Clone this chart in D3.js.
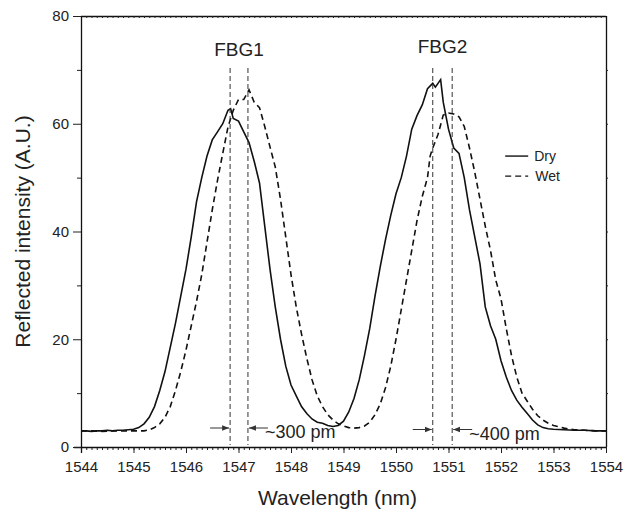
<!DOCTYPE html>
<html>
<head>
<meta charset="utf-8">
<script src="https://cdn.jsdelivr.net/npm/d3@7"></script>
<style>
  body { margin: 0; background: #fff; }
  svg { font-family: "Liberation Sans", Arial, sans-serif; }
</style>
</head>
<body>
<div id="chart"></div>
<script>
// wavelength (nm), reflected intensity (A.U.)
const dry = [
  [1544.0, 3.0], [1544.1, 3.0], [1544.2, 2.9], [1544.3, 3.0], [1544.4, 3.0], [1544.5, 3.1],
  [1544.6, 3.0], [1544.7, 3.1], [1544.8, 3.1], [1544.9, 3.2], [1545.0, 3.3], [1545.1, 3.6],
  [1545.2, 4.3], [1545.3, 5.5], [1545.4, 7.5], [1545.5, 10.5], [1545.6, 14.0], [1545.7, 18.5],
  [1545.8, 23.0], [1545.9, 28.0], [1546.0, 33.0], [1546.1, 39.0], [1546.2, 45.5], [1546.3, 50.0],
  [1546.4, 54.0], [1546.5, 57.0], [1546.6, 58.5], [1546.7, 60.0], [1546.8, 62.5], [1546.85, 62.8],
  [1546.9, 61.0], [1547.0, 60.5], [1547.1, 58.5], [1547.2, 56.5], [1547.3, 53.0], [1547.4, 49.0],
  [1547.5, 41.0], [1547.6, 33.0], [1547.7, 26.0], [1547.8, 20.0], [1547.9, 15.0], [1548.0, 11.5],
  [1548.1, 9.5], [1548.2, 7.5], [1548.3, 6.2], [1548.4, 5.2], [1548.5, 4.6], [1548.6, 4.4],
  [1548.7, 4.0], [1548.8, 3.8], [1548.9, 4.0], [1549.0, 4.8], [1549.1, 6.5], [1549.2, 9.0],
  [1549.3, 12.5], [1549.4, 17.0], [1549.5, 22.0], [1549.6, 28.0], [1549.7, 33.5], [1549.8, 38.5],
  [1549.9, 43.0], [1550.0, 47.0], [1550.1, 50.0], [1550.2, 54.0], [1550.3, 59.0], [1550.4, 61.5],
  [1550.5, 63.5], [1550.6, 66.5], [1550.7, 67.5], [1550.75, 66.8], [1550.85, 68.2], [1550.9, 64.0],
  [1551.0, 59.0], [1551.1, 55.5], [1551.2, 54.5], [1551.3, 50.0], [1551.4, 44.0], [1551.5, 39.0],
  [1551.6, 34.0], [1551.7, 26.0], [1551.8, 22.5], [1551.9, 20.0], [1552.0, 16.0], [1552.1, 13.0],
  [1552.2, 10.5], [1552.3, 8.7], [1552.4, 7.4], [1552.5, 6.2], [1552.6, 5.0], [1552.7, 4.1],
  [1552.8, 3.6], [1552.9, 3.4], [1553.0, 3.3], [1553.2, 3.2], [1553.4, 3.1], [1553.6, 3.1],
  [1553.8, 3.0], [1554.0, 3.0]
];

const wet = [
  [1544.0, 3.0], [1544.2, 3.0], [1544.4, 2.9], [1544.6, 3.0], [1544.8, 3.0], [1545.0, 3.0],
  [1545.2, 3.0], [1545.3, 3.2], [1545.4, 3.6], [1545.5, 4.3], [1545.6, 5.5], [1545.7, 7.5],
  [1545.8, 10.5], [1545.9, 14.0], [1546.0, 18.0], [1546.1, 22.5], [1546.2, 27.0], [1546.3, 32.0],
  [1546.4, 38.0], [1546.5, 44.0], [1546.6, 49.5], [1546.7, 54.5], [1546.8, 59.4], [1546.9, 62.5],
  [1547.0, 64.5], [1547.1, 64.5], [1547.2, 66.3], [1547.3, 64.0], [1547.4, 63.0], [1547.5, 59.5],
  [1547.6, 55.7], [1547.7, 52.0], [1547.8, 46.0], [1547.9, 39.0], [1548.0, 32.0], [1548.1, 26.0],
  [1548.2, 21.0], [1548.3, 16.5], [1548.4, 12.5], [1548.5, 9.5], [1548.6, 7.5], [1548.7, 6.0],
  [1548.8, 5.0], [1548.9, 4.3], [1549.0, 3.9], [1549.1, 3.6], [1549.2, 3.5], [1549.3, 3.6],
  [1549.4, 3.9], [1549.5, 4.6], [1549.6, 6.0], [1549.7, 8.0], [1549.8, 11.0], [1549.9, 15.0],
  [1550.0, 20.0], [1550.1, 25.5], [1550.2, 31.0], [1550.3, 36.5], [1550.4, 42.0], [1550.5, 46.5],
  [1550.6, 50.0], [1550.65, 54.0], [1550.7, 55.5], [1550.8, 58.0], [1550.9, 61.6], [1551.0, 62.0],
  [1551.1, 61.8], [1551.2, 61.3], [1551.3, 59.5], [1551.4, 55.5], [1551.5, 51.0], [1551.6, 46.0],
  [1551.7, 41.0], [1551.8, 36.5], [1551.9, 31.0], [1552.0, 27.5], [1552.1, 22.0], [1552.2, 17.0],
  [1552.3, 13.0], [1552.4, 10.0], [1552.5, 8.5], [1552.6, 7.0], [1552.7, 5.8], [1552.8, 5.0],
  [1552.9, 4.4], [1553.0, 4.0], [1553.2, 3.5], [1553.4, 3.2], [1553.6, 3.1], [1553.8, 3.0],
  [1554.0, 3.0]
];

const xTicks = [1544, 1545, 1546, 1547, 1548, 1549, 1550, 1551, 1552, 1553, 1554];
const yTicks = [0, 20, 40, 60, 80];
const yMinorTicks = [10, 30, 50, 70];

// peak positions marked by the vertical guides
const fbg1Lines = [1546.84, 1547.18];
const fbg2Lines = [1550.70, 1551.07];
const shiftLabels = ["~300 pm", "~400 pm"];
const peakLabels = ["FBG1", "FBG2"];
const seriesNames = ["Dry", "Wet"];

const W = 628, H = 513;
const margin = { top: 16, right: 22, bottom: 66, left: 81 };
const iw = W - margin.left - margin.right;
const ih = H - margin.top - margin.bottom;

const svg = d3.select("#chart").append("svg")
  .attr("width", W).attr("height", H);

const defs = svg.append("defs");
defs.append("marker")
  .attr("id", "arrow")
  .attr("viewBox", "0 0 10 10")
  .attr("refX", 10).attr("refY", 5)
  .attr("markerWidth", 7).attr("markerHeight", 7)
  .attr("markerUnits", "userSpaceOnUse")
  .attr("orient", "auto")
  .append("path")
  .attr("d", "M0,1 L10,5 L0,9 z")
  .attr("fill", "#333");

const g = svg.append("g").attr("transform", `translate(${margin.left},${margin.top})`);

const x = d3.scaleLinear().domain([1544, 1554]).range([0, iw]);
const y = d3.scaleLinear().domain([0, 80]).range([ih, 0]);

// frame: bottom axis with minor ticks
const xMinor = d3.range(1544, 1554.001, 0.1).map(v => +v.toFixed(1));
g.append("g").attr("transform", `translate(0,${ih})`)
  .call(d3.axisBottom(x).tickValues(xMinor).tickSize(3).tickFormat(""))
  .call(a => a.select(".domain").remove());
g.append("g").attr("transform", `translate(0,${ih})`)
  .call(d3.axisBottom(x).tickValues(xTicks).tickSize(6).tickPadding(8).tickFormat(d3.format("d")))
  .call(a => a.selectAll("text").attr("font-size", 15).attr("fill", "#222"))
  .call(a => a.select(".domain").attr("d", `M-7,0.5H${iw + 0.5}`));

// top axis, minor ticks only
g.append("g")
  .call(d3.axisBottom(x).tickValues(xMinor).tickSize(2).tickFormat(""))
  .call(a => a.select(".domain").attr("d", `M0,0.5H${iw}`));

// left axis
g.append("g")
  .call(d3.axisLeft(y).tickValues(yMinorTicks).tickSize(4).tickFormat(""))
  .call(a => a.select(".domain").remove());
g.append("g")
  .call(d3.axisLeft(y).tickValues(yTicks).tickSize(8).tickPadding(4))
  .call(a => a.selectAll("text").attr("font-size", 15).attr("fill", "#222"))
  .call(a => a.select(".domain").attr("d", `M0.5,0V${ih + 6}`));

// right axis
g.append("g").attr("transform", `translate(${iw},0)`)
  .call(d3.axisRight(y).tickValues([10, 20, 30, 40, 50, 60, 70]).tickSize(2).tickFormat(""))
  .call(a => a.select(".domain").attr("d", `M0.5,0V${ih}`));

g.selectAll(".domain").attr("stroke", "#111").attr("stroke-width", 1.3);
g.selectAll(".tick line").attr("stroke", "#222");

// axis titles
svg.append("text")
  .attr("x", margin.left + iw / 2 - 6).attr("y", 505)
  .attr("text-anchor", "middle").attr("font-size", 21).attr("fill", "#222")
  .text("Wavelength (nm)");
svg.append("text")
  .attr("transform", `translate(30,${margin.top + ih / 2}) rotate(-90)`)
  .attr("text-anchor", "middle").attr("font-size", 21).attr("fill", "#222")
  .text("Reflected intensity (A.U.)");

// spectra
const line = d3.line().x(d => x(d[0])).y(d => y(d[1]));
g.append("path").datum(dry)
  .attr("d", line).attr("fill", "none")
  .attr("stroke", "#111").attr("stroke-width", 1.6);
g.append("path").datum(wet)
  .attr("d", line).attr("fill", "none")
  .attr("stroke", "#111").attr("stroke-width", 1.6)
  .attr("stroke-dasharray", "6,4");

// vertical guides at the peaks
const guideTop = 52, guideBottom = 429;
g.selectAll(".guide")
  .data(fbg1Lines.concat(fbg2Lines))
  .enter().append("line")
  .attr("class", "guide")
  .attr("x1", d => x(d)).attr("x2", d => x(d))
  .attr("y1", guideTop).attr("y2", guideBottom)
  .attr("stroke", "#333").attr("stroke-width", 1)
  .attr("stroke-dasharray", "5,3");

// peak labels
[fbg1Lines, fbg2Lines].forEach((pair, i) => {
  g.append("text")
    .attr("x", x(d3.mean(pair))).attr("y", i === 0 ? 40 : 37)
    .attr("text-anchor", "middle").attr("font-size", 19).attr("fill", "#222")
    .text(peakLabels[i]);

  // shift arrows
  const ay = 412 + i * 1.5;
  g.append("line")
    .attr("x1", x(pair[0]) - 20).attr("x2", x(pair[0]) - 1)
    .attr("y1", ay).attr("y2", ay)
    .attr("stroke", "#333").attr("stroke-width", 1)
    .attr("marker-end", "url(#arrow)");
  g.append("line")
    .attr("x1", x(pair[1]) + 20).attr("x2", x(pair[1]) + 1)
    .attr("y1", ay).attr("y2", ay)
    .attr("stroke", "#333").attr("stroke-width", 1)
    .attr("marker-end", "url(#arrow)");
  g.append("text")
    .attr("x", x(pair[1]) + 17).attr("y", ay + 10)
    .attr("font-size", 18).attr("fill", "#222")
    .text(shiftLabels[i]);
});

// legend
const legend = g.append("g").attr("transform", `translate(${x(1552.08)},${y(54)})`);
seriesNames.forEach((name, i) => {
  legend.append("line")
    .attr("x1", 0).attr("x2", 23)
    .attr("y1", i * 20).attr("y2", i * 20)
    .attr("stroke", "#111").attr("stroke-width", 1.4)
    .attr("stroke-dasharray", i === 1 ? "6,4" : null);
  legend.append("text")
    .attr("x", 29 + i).attr("y", i * 20 + 5)
    .attr("font-size", 14).attr("fill", "#222")
    .text(name);
});
</script>
</body>
</html>
